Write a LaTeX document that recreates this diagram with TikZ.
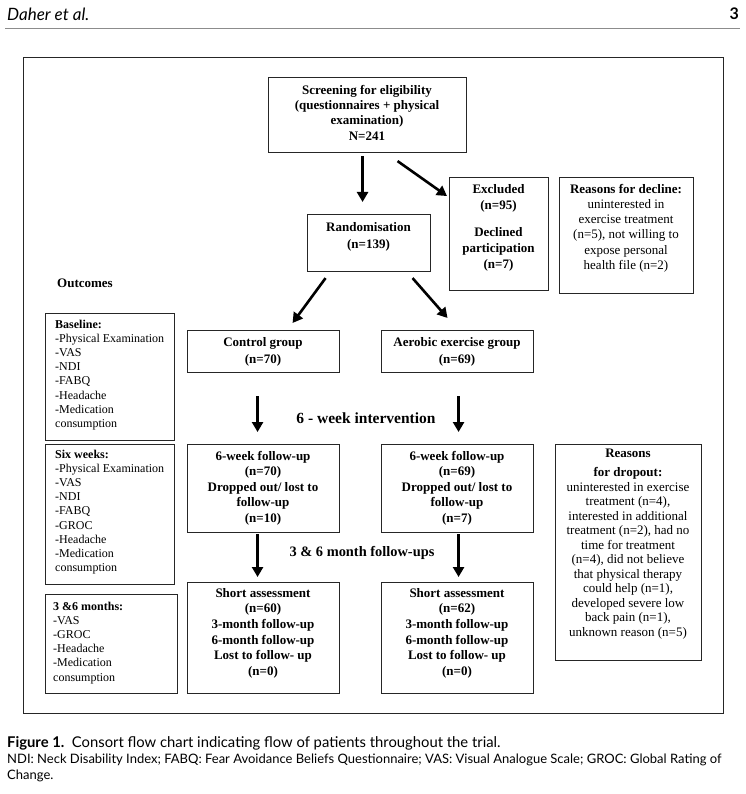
\documentclass[tikz,border=0pt]{standalone}
\usepackage{fontspec}
\setmainfont{Liberation Serif}
\newfontfamily\capsans{Lato}
\usetikzlibrary{arrows.meta}
\begin{document}
\begin{tikzpicture}[x=1pt,y=-1pt,
  box/.style={draw=black!85, line width=1.1pt, inner sep=0pt, anchor=north west},
  framebox/.style={draw=black!85, line width=0.9pt, inner sep=0pt, anchor=north west},
  txt/.style={inner sep=0pt, align=center, anchor=north, font=\fontsize{13}{15.4}\selectfont},
  ltxt/.style={inner sep=0pt, align=left, anchor=north west, font=\fontsize{12}{14.1}\selectfont},
  arr/.style={line width=2.6pt, -{Triangle[length=10pt,width=11pt]}},
  captxt/.style={inner sep=0pt, anchor=base west}]
\useasboundingbox (0,0) rectangle (745,794);
% header
\node[captxt] (hdr) at (7,21) {\capsans\itshape\fontsize{17}{20}\selectfont Daher et al.};
\node[inner sep=0pt, anchor=base east] (pg) at (739,20) {\capsans\bfseries\fontsize{16}{19}\selectfont 3};
\draw[black!45, line width=1pt] (5,29) -- (740,29);
% frame
\node[framebox, minimum width=700, minimum height=656] (frm) at (23,57) {};
% boxes
\node[box, minimum width=198, minimum height=75] (scr) at (268,77) {};
\node[box, minimum width=123, minimum height=57] (rand) at (307,214) {};
\node[box, minimum width=99, minimum height=113] (excl) at (449,177) {};
\node[box, minimum width=134, minimum height=116] (decl) at (559,177) {};
\node[box, minimum width=152, minimum height=42] (ctrl) at (187,330) {};
\node[box, minimum width=152, minimum height=42] (aer) at (381,330) {};
\node[box, minimum width=152, minimum height=88] (fua) at (187,444) {};
\node[box, minimum width=152, minimum height=88] (fub) at (381,444) {};
\node[box, minimum width=152, minimum height=111] (saa) at (187,582) {};
\node[box, minimum width=152, minimum height=111] (sab) at (381,582) {};
\node[box, minimum width=146, minimum height=216] (drop) at (555,444) {};
\node[box, minimum width=129, minimum height=127] (base) at (45,313) {};
\node[box, minimum width=129, minimum height=140] (six) at (45,444) {};
\node[box, minimum width=132, minimum height=99] (three) at (45,594) {};
% texts in boxes
\node[txt, font=\bfseries\fontsize{13}{15.3}\selectfont] (scrT) at (367,85) {Screening for eligibility\\(questionnaires + physical\\examination)\\N=241};
\node[txt, font=\bfseries\fontsize{13}{17.5}\selectfont] (randT) at (368.5,222) {Randomisation\\(n=139)};
\node[txt, font=\bfseries\fontsize{13}{16.3}\selectfont] (exclT) at (498.5,184) {Excluded\\(n=95)\\[10.5pt]Declined\\participation\\(n=7)};
\node[txt, font=\fontsize{13}{15.2}\selectfont] (declT) at (626,184) {\textbf{Reasons for decline:}\\uninterested in\\exercise treatment\\(n=5), not willing to\\expose personal\\health file (n=2)};
\node[txt, font=\bfseries\fontsize{13}{17}\selectfont] (ctrlT) at (263,337) {Control group\\(n=70)};
\node[txt, font=\bfseries\fontsize{13}{17}\selectfont] (aerT) at (457,337) {Aerobic exercise group\\(n=69)};
\node[txt, font=\bfseries\fontsize{13}{15.5}\selectfont] (fuaT) at (263,451) {6-week follow-up\\(n=70)\\Dropped out/ lost to\\follow-up\\(n=10)};
\node[txt, font=\bfseries\fontsize{13}{15.5}\selectfont] (fubT) at (457,451) {6-week follow-up\\(n=69)\\Dropped out/ lost to\\follow-up\\(n=7)};
\node[txt, font=\bfseries\fontsize{13}{15.6}\selectfont] (saaT) at (263,588) {Short assessment\\(n=60)\\3-month follow-up\\6-month follow-up\\Lost to follow- up\\(n=0)};
\node[txt, font=\bfseries\fontsize{13}{15.6}\selectfont] (sabT) at (457,588) {Short assessment\\(n=62)\\3-month follow-up\\6-month follow-up\\Lost to follow- up\\(n=0)};
\node[txt, font=\fontsize{13}{14.5}\selectfont] (dropT) at (628,449) {\textbf{Reasons}\\[4.5pt]\textbf{for dropout:}\\uninterested in exercise\\treatment (n=4),\\interested in additional\\treatment (n=2), had no\\time for treatment\\(n=4), did not believe\\that physical therapy\\could help (n=1),\\developed severe low\\back pain (n=1),\\unknown reason (n=5)};
\node[ltxt] (baseT) at (55,320) {\textbf{Baseline:}\\-Physical Examination\\-VAS\\-NDI\\-FABQ\\-Headache\\-Medication\\consumption};
\node[ltxt] (sixT) at (55,450) {\textbf{Six weeks:}\\-Physical Examination\\-VAS\\-NDI\\-FABQ\\-GROC\\-Headache\\-Medication\\consumption};
\node[ltxt] (threeT) at (53,602) {\textbf{3 \&6 months:}\\-VAS\\-GROC\\-Headache\\-Medication\\consumption};
% free labels
\node[inner sep=0pt, anchor=west, font=\bfseries\fontsize{13}{15}\selectfont] (outc) at (57,283) {Outcomes};
\node[inner sep=0pt, font=\bfseries\fontsize{15.5}{18}\selectfont] (interv) at (366,418) {6 - week intervention};
\node[inner sep=0pt, font=\bfseries\fontsize{14.4}{17}\selectfont] (mfu) at (362,553) {3 \& 6 month follow-ups};
% arrows
\draw[arr] ([xshift=-5pt,yshift=-3pt]scr.south) -- ([xshift=-6.5pt,yshift=12pt]rand.north);
\draw[arr] ([xshift=30pt,yshift=-8pt]scr.south) -- ([xshift=-2pt,yshift=38pt]excl.west);
\draw[arr] ([xshift=-43.5pt,yshift=-6pt]rand.south) -- ([xshift=29pt,yshift=7pt]ctrl.north);
\draw[arr] ([xshift=43.5pt,yshift=-6pt]rand.south) -- ([xshift=-10pt,yshift=12pt]aer.north);
\draw[arr] ([xshift=-6pt,yshift=-23pt]ctrl.south) -- ([xshift=-6pt,yshift=12pt]fua.north);
\draw[arr] ([xshift=1pt,yshift=-23pt]aer.south) -- ([xshift=1pt,yshift=12pt]fub.north);
\draw[arr] ([xshift=-6pt,yshift=-1pt]fua.south) -- ([xshift=-6pt,yshift=5pt]saa.north);
\draw[arr] ([xshift=1pt,yshift=-1pt]fub.south) -- ([xshift=1pt,yshift=5pt]sab.north);
% caption
\node[captxt] (capA) at (7,747) {\capsans\fontsize{14.8}{17}\selectfont\textbf{Figure 1.}\ \ Consort flow chart indicating flow of patients throughout the trial.};
\node[captxt] (capB) at (7,763) {\capsans\fontsize{13}{15}\selectfont NDI: Neck Disability Index; FABQ: Fear Avoidance Beliefs Questionnaire; VAS: Visual Analogue Scale; GROC: Global Rating of};
\node[captxt] (capC) at (7,779) {\capsans\fontsize{13}{15}\selectfont Change.};
\end{tikzpicture}
\end{document}
